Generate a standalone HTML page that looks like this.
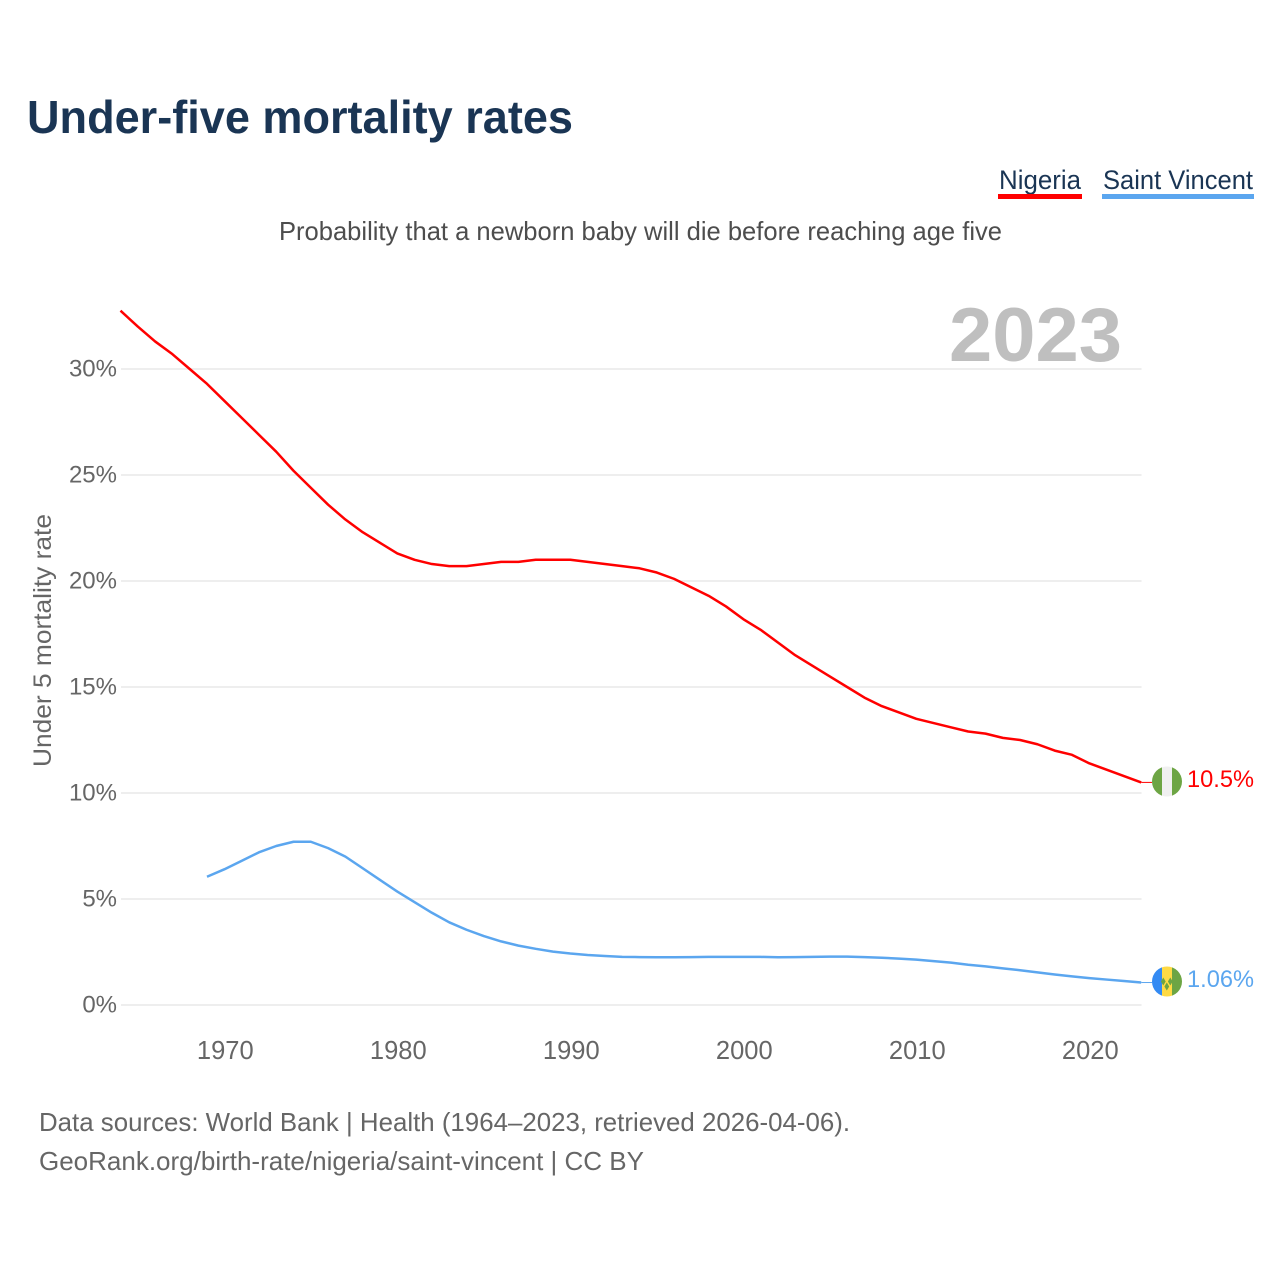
<!DOCTYPE html>
<html lang="en">
<head>
<meta charset="utf-8">
<title>Under-five mortality rates</title>
<style>
html,body{margin:0;padding:0;background:#fff;width:1280px;height:1280px;overflow:hidden}
svg{display:block}
text{font-family:"Liberation Sans",sans-serif}
</style>
</head>
<body>
<svg id="chart" xmlns="http://www.w3.org/2000/svg" width="1280" height="1280" viewBox="0 0 1280 1280">
  <rect width="1280" height="1280" fill="#ffffff"/>
  <text x="27" y="133" font-size="46" font-weight="700" fill="#1a3554" textLength="546" lengthAdjust="spacingAndGlyphs">Under-five mortality rates</text>
  <g>
    <text x="999" y="189" font-size="27" fill="#1a3554" textLength="82" lengthAdjust="spacingAndGlyphs">Nigeria</text>
    <rect x="998" y="194" width="84" height="5" fill="#ff0000"/>
  </g>
  <g>
    <text x="1103" y="189" font-size="27" fill="#1a3554" textLength="150" lengthAdjust="spacingAndGlyphs">Saint Vincent</text>
    <rect x="1102" y="194" width="152" height="5" fill="#5ba6ef"/>
  </g>
  <text x="279" y="240" font-size="26" fill="#4d4d4d" textLength="723" lengthAdjust="spacingAndGlyphs">Probability that a newborn baby will die before reaching age five</text>
  <text x="949" y="361" font-size="76" font-weight="700" fill="#bfbfbf" textLength="173" lengthAdjust="spacingAndGlyphs">2023</text>
  <g id="grid"></g>
  <g id="yticks"></g>
  <g id="xticks"></g>
  <text transform="translate(51,767) rotate(-90)" font-size="25" fill="#666666" textLength="253" lengthAdjust="spacingAndGlyphs">Under 5 mortality rate</text>
  <g id="series"></g>
  <defs>
    <clipPath id="clip-ng"><circle cx="1167" cy="781.5" r="15"/></clipPath>
    <clipPath id="clip-vc"><circle cx="1167" cy="981.5" r="15"/></clipPath>
  </defs>
  <g id="flag-nigeria" clip-path="url(#clip-ng)">
    <rect x="1152" y="766" width="10" height="31" fill="#6da544"/>
    <rect x="1162" y="766" width="10" height="31" fill="#f0f0f0"/>
    <rect x="1172" y="766" width="10" height="31" fill="#6da544"/>
  </g>
  <g id="flag-saint-vincent" clip-path="url(#clip-vc)">
    <rect x="1152" y="966" width="10" height="31" fill="#338af3"/>
    <rect x="1162" y="966" width="10" height="31" fill="#ffda44"/>
    <rect x="1172" y="966" width="10" height="31" fill="#6da544"/>
    <path d="M1163.300 977.500l2.400 4-2.400 4-2.400-4zM1170.300 977.500l2.400 4-2.400 4-2.400-4zM1166.800 982.500l2.400 4-2.400 4-2.400-4z" fill="#6da544"/>
  </g>
  <text id="end-nigeria" x="1187" y="787" font-size="24.500" fill="#ff0000" textLength="67" lengthAdjust="spacingAndGlyphs">10.5%</text>
  <text id="end-saint-vincent" x="1187" y="987" font-size="24.500" fill="#5ba6ef" textLength="67" lengthAdjust="spacingAndGlyphs">1.06%</text>
  <text x="39" y="1131" font-size="26" fill="#666666" textLength="811" lengthAdjust="spacingAndGlyphs">Data sources: World Bank | Health (1964–2023, retrieved 2026-04-06).</text>
  <text x="39" y="1170" font-size="26" fill="#666666" textLength="605" lengthAdjust="spacingAndGlyphs">GeoRank.org/birth-rate/nigeria/saint-vincent | CC BY</text>
</svg>
<script>
const nigeriaStartYear = 1964;
const saintVincentStartYear = 1969;
const nigeriaValues = [32.75,32.0,31.3,30.7,30.0,29.3,28.5,27.7,26.9,26.1,25.2,24.4,23.6,22.9,22.3,21.8,21.3,21.0,20.8,20.7,20.7,20.8,20.9,20.9,21.0,21.0,21.0,20.9,20.8,20.7,20.6,20.4,20.1,19.7,19.3,18.8,18.2,17.7,17.1,16.5,16.0,15.5,15.0,14.5,14.1,13.8,13.5,13.3,13.1,12.9,12.8,12.6,12.5,12.3,12.0,11.8,11.4,11.1,10.8,10.5];
const saintVincentValues = [6.05,6.4,6.8,7.2,7.5,7.7,7.7,7.4,7.0,6.45,5.9,5.35,4.85,4.35,3.9,3.55,3.25,3.0,2.8,2.65,2.52,2.43,2.36,2.31,2.27,2.26,2.25,2.25,2.26,2.27,2.27,2.27,2.27,2.25,2.26,2.27,2.28,2.28,2.26,2.23,2.19,2.14,2.07,2.0,1.9,1.82,1.73,1.64,1.54,1.44,1.35,1.27,1.2,1.13,1.06];
const yTickValues = [0,5,10,15,20,25,30];
const yTickLabels = ["0%","5%","10%","15%","20%","25%","30%"];
const xTickValues = [1970,1980,1990,2000,2010,2020];
const xTickLabels = ["1970","1980","1990","2000","2010","2020"];

const SVG_NS = "http://www.w3.org/2000/svg";
const plotLeft = 121, plotRight = 1141.5;
function xScale(year){ return 224.3 + (year - 1970) * 17.3; }
function yScale(v){ return 1005 - v * 21.2; }
function make(tag, attrs, parent){
  const el = document.createElementNS(SVG_NS, tag);
  for (const k in attrs) el.setAttribute(k, attrs[k]);
  parent.appendChild(el);
  return el;
}
const gridG = document.getElementById("grid");
const yG = document.getElementById("yticks");
const xG = document.getElementById("xticks");
const seriesG = document.getElementById("series");

yTickValues.forEach(function(v, i){
  const y = yScale(v);
  const line = make("line", {x1: plotLeft, x2: plotRight, y1: y, y2: y, stroke: "#eeeeee", "stroke-width": 2}, gridG);
  
  
  const t = make("text", {x: 117, y: y + 7.500, "font-size": 24, "text-anchor": "end", fill: "#666666"}, yG);
  
  
  t.textContent = yTickLabels[i];
});
xTickValues.forEach(function(v, i){
  const t = make("text", {x: xScale(v) + 1, y: 1059, "font-size": 25.500, "text-anchor": "middle", fill: "#666666"}, xG);
  
  
  t.textContent = xTickLabels[i];
});
function drawSeries(values, startYear, color, width){
  const pts = values.map(function(v, i){ return xScale(startYear + i).toFixed(2) + "," + yScale(v).toFixed(2); });
  const p = make("polyline", {points: pts.join(" "), fill: "none", stroke: color, "stroke-width": width, "stroke-linejoin": "round"}, seriesG);
  const last = values[values.length - 1];
  const lastX = xScale(startYear + values.length - 1);
  const lead = make("line", {x1: lastX, x2: lastX + 11, y1: yScale(last), y2: yScale(last), stroke: color, "stroke-width": 1}, seriesG);
  
  
  return p;
}
const nigeriaLine = drawSeries(nigeriaValues, nigeriaStartYear, "#ff0000", 2.500);


const vincentLine = drawSeries(saintVincentValues, saintVincentStartYear, "#5ba6ef", 2.500);


</script>
</body>
</html>
